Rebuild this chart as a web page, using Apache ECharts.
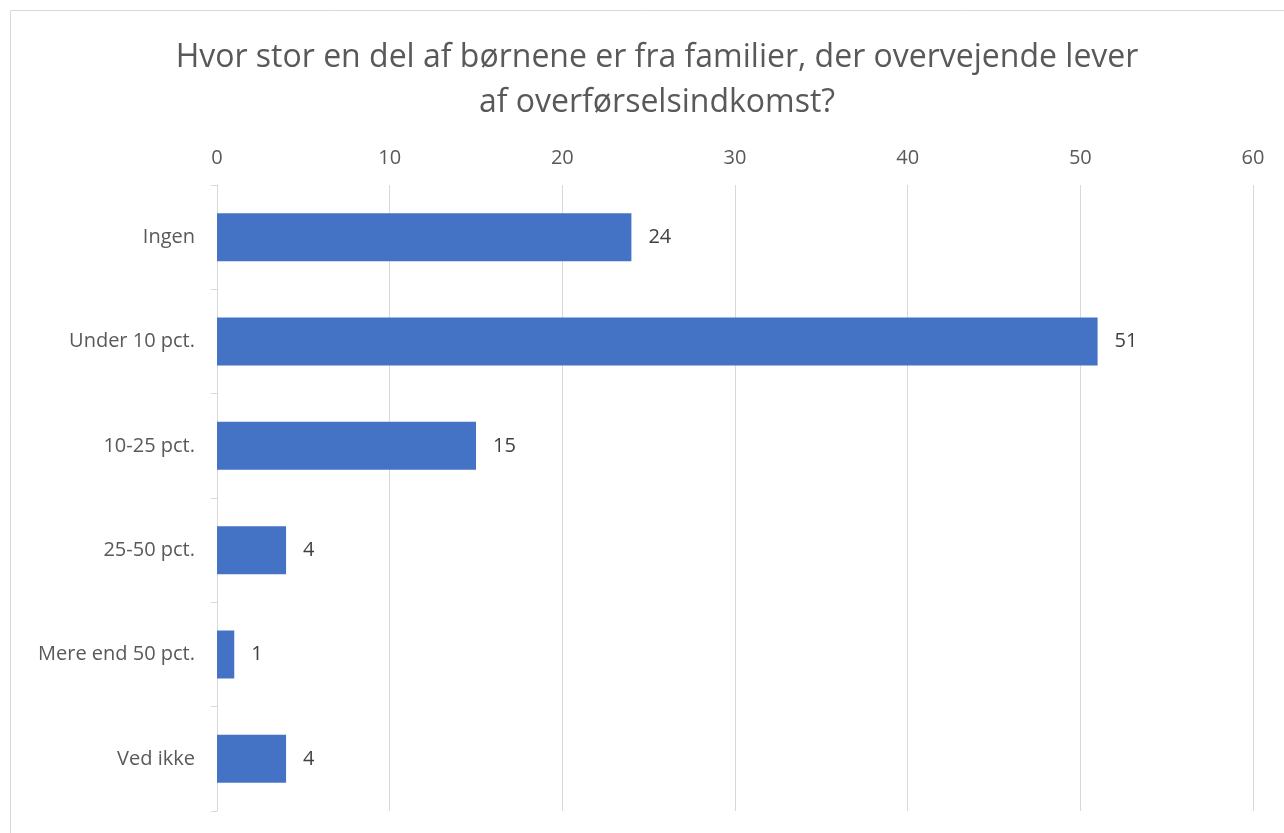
<!DOCTYPE html>
<html>
<head>
<meta charset="utf-8">
<script src="https://cdn.jsdelivr.net/npm/echarts@6/dist/echarts.min.js"></script>
<style>
  html, body { margin: 0; padding: 0; background: #fff; }
  #main { width: 1284px; height: 833px; }
</style>
</head>
<body>
<div id="main"></div>
<script>
// data
var categories = ['Ingen', 'Under 10 pct.', '10-25 pct.', '25-50 pct.', 'Mere end 50 pct.', 'Ved ikke'];
var values = [24, 51, 15, 4, 1, 4];
var titleText = 'Hvor stor en del af børnene er fra familier, der overvejende lever\naf overførselsindkomst?';

var chartDom = document.getElementById('main');
var myChart = echarts.init(chartDom);
var font = '"Open Sans", "Noto Sans", sans-serif';

var option = {
  animation: false,
  textStyle: { fontFamily: font },
  title: {
    text: titleText,
    left: 652,
    top: 30,
    textAlign: 'center',
    textStyle: {
      fontFamily: font,
      fontWeight: 'normal',
      fontSize: 32,
      color: '#595959',
      lineHeight: 45
    }
  },
  graphic: [
    {
      type: 'rect',
      shape: { x: 10.5, y: 10.5, width: 1300, height: 900 },
      style: { fill: 'none', stroke: '#d9d9d9', lineWidth: 1 },
      silent: true
    }
  ],
  grid: {
    left: 217,
    right: 31,
    top: 185,
    bottom: 22,
    containLabel: false
  },
  xAxis: {
    type: 'value',
    position: 'top',
    min: 0,
    max: 60,
    interval: 10,
    axisLine: { show: false },
    axisTick: { show: false },
    axisLabel: {
      fontSize: 20,
      color: '#595959',
      margin: 17
    },
    splitLine: {
      lineStyle: { color: '#d9d9d9', width: 1 }
    }
  },
  yAxis: {
    type: 'category',
    inverse: true,
    data: categories,
    axisLine: {
      lineStyle: { color: '#d9d9d9', width: 1 }
    },
    axisTick: {
      show: true,
      length: 6,
      lineStyle: { color: '#d9d9d9' }
    },
    axisLabel: {
      fontSize: 20,
      color: '#595959',
      margin: 22
    }
  },
  series: [
    {
      type: 'bar',
      data: values,
      barWidth: 48,
      itemStyle: { color: '#4472C4' },
      label: {
        show: true,
        position: 'right',
        distance: 17,
        fontSize: 20,
        color: '#404040'
      }
    }
  ]
};
option && myChart.setOption(option);
</script>
</body>
</html>
